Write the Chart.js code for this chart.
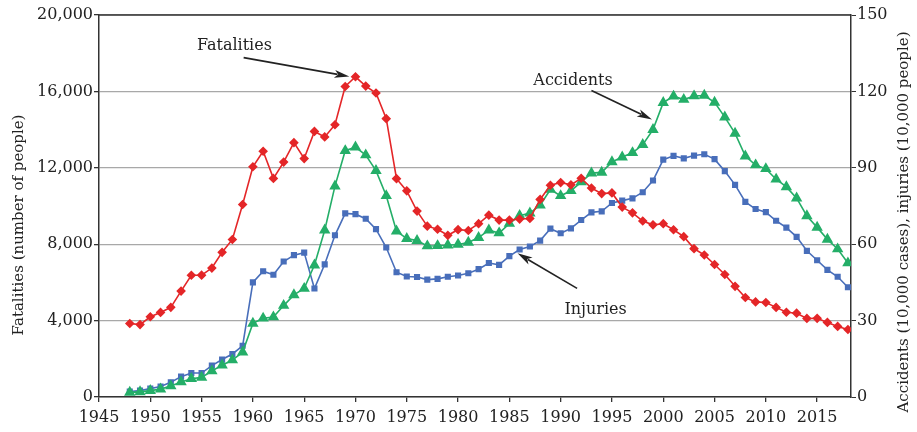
<!DOCTYPE html>
<html>
<head>
<meta charset="utf-8">
<script src="https://cdn.jsdelivr.net/npm/chart.js@4.4.1/dist/chart.umd.min.js"></script>
<style>
  body { margin: 0; background: #fff; }
  #wrap { width: 917px; height: 432px; }
</style>
</head>
<body>
<div id="wrap"><canvas id="chart" width="917" height="432"></canvas></div>
<script>
'use strict';

// years 1948 .. 2018
const years = [];
for (let y = 1948; y <= 2018; y++) years.push(y);

// fatalities (people), left axis
const fatalities = [
  3848, 3790, 4202, 4429, 4696, 5544, 6374, 6379, 6751, 7575,
  8248, 10079, 12055, 12865, 11445, 12301, 13318, 12484, 13904, 13618,
  14256, 16257, 16765, 16278, 15918, 14574, 11432, 10792, 9734, 8945,
  8783, 8466, 8760, 8719, 9073, 9520, 9262, 9261, 9317, 9347,
  10344, 11086, 11227, 11109, 11452, 10942, 10649, 10684, 9943, 9642,
  9214, 9012, 9073, 8757, 8396, 7768, 7436, 6937, 6415, 5796,
  5209, 4979, 4948, 4691, 4438, 4388, 4113, 4117, 3904, 3694, 3532
];

// green series labelled "Accidents" (10,000), right axis
const accidents = [
  1.8, 2.0, 2.5, 3.1, 4.3, 5.9, 7.2, 7.7, 10.2, 12.5,
  14.5, 17.6, 28.9, 30.9, 31.4, 35.9, 40.1, 42.6, 51.8, 65.5,
  82.8, 96.7, 98.1, 95.0, 88.9, 79.0, 65.1, 62.2, 61.4, 59.3,
  59.4, 59.6, 59.9, 60.7, 62.6, 65.5, 64.4, 68.1, 71.2, 72.2,
  75.3, 81.5, 79.0, 81.0, 84.4, 87.9, 88.2, 92.3, 94.2, 95.9,
  99.1, 105.0, 115.6, 118.1, 116.8, 118.2, 118.4, 115.7, 109.9, 103.5,
  94.6, 91.1, 89.6, 85.5, 82.5, 78.1, 71.1, 66.6, 61.9, 58.1, 52.6
];

// blue series labelled "Injuries" (10,000), right axis
const injuries = [
  2.1, 2.5, 3.3, 4.1, 5.8, 8.0, 9.4, 9.4, 12.3, 14.7,
  16.9, 20.1, 45.0, 49.4, 48.0, 53.2, 55.7, 56.7, 42.6, 52.1,
  63.5, 72.1, 71.8, 70.0, 65.9, 58.7, 49.0, 47.3, 47.1, 46.1,
  46.4, 47.2, 47.7, 48.6, 50.2, 52.6, 51.9, 55.3, 57.9, 59.1,
  61.4, 66.1, 64.3, 66.2, 69.5, 72.5, 72.9, 76.2, 77.1, 78.0,
  80.4, 85.0, 93.2, 94.7, 93.7, 94.8, 95.3, 93.4, 88.7, 83.3,
  76.6, 73.8, 72.6, 69.2, 66.5, 62.9, 57.4, 53.7, 49.9, 47.2, 43.1
];

const yearTicks = [1945, 1950, 1955, 1960, 1965, 1970, 1975, 1980, 1985, 1990, 1995, 2000, 2005, 2010, 2015];
const leftTicks = [0, 4000, 8000, 12000, 16000, 20000];
const rightTicks = [0, 30, 60, 90, 120, 150];

// text labels with arrows: [text, textX, textY, fromX, fromY, toX, toY] in data units (left axis)
const notes = [
  ['Fatalities', 1958.2, 18400, 1959.1, 17770, 1969.4, 16780],
  ['Accidents', 1991.2, 16570, 1993.0, 16045, 1998.9, 14530],
  ['Injuries', 1993.4, 4540, 1991.6, 5690, 1985.8, 7520]
];

const FONT = "'DejaVu Serif', serif";
const INK = '#222';

function pts(vals) {
  return vals.map((v, i) => ({ x: years[i], y: v }));
}

const decor = {
  id: 'decor',
  afterDraw(chart) {
    const ctx = chart.ctx;
    const a = chart.chartArea;
    const sx = chart.scales.x, sy = chart.scales.y;
    ctx.save();
    // top frame line
    ctx.strokeStyle = '#333';
    ctx.lineWidth = 1.5;
    ctx.beginPath();
    ctx.moveTo(a.left, a.top);
    ctx.lineTo(a.right, a.top);
    ctx.stroke();

    // axis titles
    ctx.fillStyle = INK;
    ctx.font = '15px ' + FONT;
    ctx.textAlign = 'center';
    ctx.textBaseline = 'middle';
    ctx.save();
    ctx.translate(19, 225);
    ctx.rotate(-Math.PI / 2);
    ctx.fillText('Fatalities (number of people)', 0, 0);
    ctx.restore();
    ctx.save();
    ctx.translate(904, 222);
    ctx.rotate(-Math.PI / 2);
    ctx.fillText('Accidents (10,000 cases), injuries (10,000 people)', 0, 0);
    ctx.restore();

    // notes with arrows
    ctx.font = '16px ' + FONT;
    notes.forEach(n => {
      ctx.fillStyle = INK;
      ctx.fillText(n[0], sx.getPixelForValue(n[1]), sy.getPixelForValue(n[2]));
      const x1 = sx.getPixelForValue(n[3]), y1 = sy.getPixelForValue(n[4]);
      const x2 = sx.getPixelForValue(n[5]), y2 = sy.getPixelForValue(n[6]);
      const ang = Math.atan2(y2 - y1, x2 - x1);
      const len = 15, half = 4;
      ctx.strokeStyle = INK;
      ctx.lineWidth = 1.6;
      ctx.beginPath();
      ctx.moveTo(x1, y1);
      ctx.lineTo(x2 - Math.cos(ang) * len * 0.8, y2 - Math.sin(ang) * len * 0.8);
      ctx.stroke();
      ctx.beginPath();
      ctx.moveTo(x2, y2);
      ctx.lineTo(x2 - Math.cos(ang) * len - Math.sin(ang) * half, y2 - Math.sin(ang) * len + Math.cos(ang) * half);
      ctx.lineTo(x2 - Math.cos(ang) * len * 0.75, y2 - Math.sin(ang) * len * 0.75);
      ctx.lineTo(x2 - Math.cos(ang) * len + Math.sin(ang) * half, y2 - Math.sin(ang) * len - Math.cos(ang) * half);
      ctx.closePath();
      ctx.fill();
    });
    ctx.restore();
  }
};

const tickFont = { family: FONT, size: 16 };

new Chart(document.getElementById('chart'), {
  type: 'line',
  data: {
    datasets: [
      {
        label: 'Fatalities',
        data: pts(fatalities),
        yAxisID: 'y',
        borderColor: 'rgb(228,38,40)',
        backgroundColor: 'rgb(228,38,40)',
        borderWidth: 1.6,
        pointStyle: 'rectRot',
        pointRadius: 3.7,
        order: 1
      },
      {
        label: 'Injuries',
        data: pts(injuries),
        yAxisID: 'y1',
        borderColor: 'rgb(72,110,186)',
        backgroundColor: 'rgb(72,110,186)',
        borderWidth: 1.6,
        pointStyle: 'rect',
        pointRadius: 3.2,
        order: 3
      },
      {
        label: 'Accidents',
        data: pts(accidents),
        yAxisID: 'y1',
        borderColor: 'rgb(36,174,104)',
        backgroundColor: 'rgb(36,174,104)',
        borderWidth: 1.6,
        pointStyle: 'triangle',
        pointRadius: 5,
        order: 2
      }
    ]
  },
  options: {
    responsive: false,
    animation: false,
    layout: { padding: { top: 15, left: 0, right: 0, bottom: 0 } },
    plugins: { legend: { display: false }, tooltip: { enabled: false } },
    scales: {
      x: {
        type: 'linear',
        min: 1945,
        max: 2018.3,
        afterBuildTicks: s => { s.ticks = yearTicks.map(v => ({ value: v })); },
        afterFit: s => { s.height = 35; },
        grid: { drawOnChartArea: false, drawTicks: true, tickLength: 5, color: '#333', lineWidth: 1.3 },
        border: { display: true, color: '#333', width: 1.5 },
        ticks: { font: tickFont, color: INK, padding: 6, maxRotation: 0, autoSkip: false, callback: v => String(v) }
      },
      y: {
        position: 'left',
        min: 0,
        max: 20000,
        afterBuildTicks: s => { s.ticks = leftTicks.map(v => ({ value: v })); },
        afterFit: s => { s.width = 99; },
        grid: { color: '#a8a8a8', lineWidth: 1.3, drawTicks: true, tickLength: 5, tickColor: '#333' },
        border: { display: true, color: '#333', width: 1.5 },
        ticks: { font: tickFont, color: INK, padding: 1, callback: v => v.toLocaleString('en-US') }
      },
      y1: {
        position: 'right',
        min: 0,
        max: 150,
        afterBuildTicks: s => { s.ticks = rightTicks.map(v => ({ value: v })); },
        afterFit: s => { s.width = 66; },
        grid: { drawOnChartArea: false, drawTicks: true, tickLength: 5, color: '#333' },
        border: { display: true, color: '#333', width: 1.5 },
        ticks: { font: tickFont, color: INK, padding: 1 }
      }
    }
  },
  plugins: [decor]
});
</script>
</body>
</html>
